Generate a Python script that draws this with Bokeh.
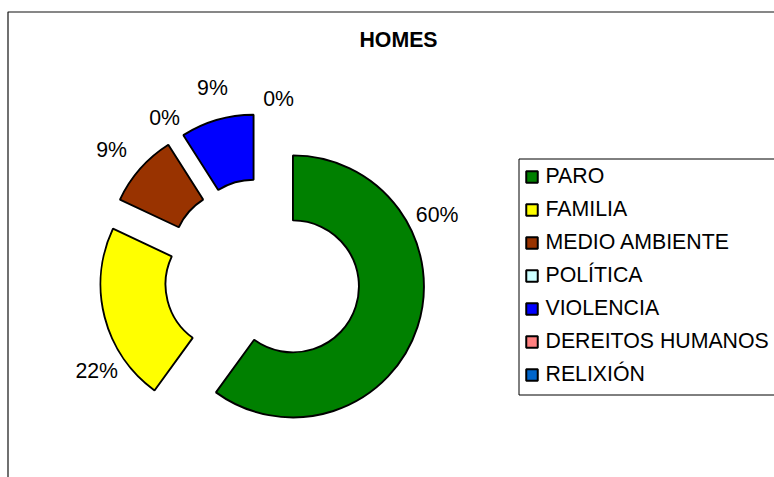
import math
from bokeh.plotting import figure
from bokeh.models import Range1d, ColumnDataSource
from bokeh.core.properties import value
from bokeh.embed import file_html
from bokeh.resources import INLINE

# ---------------- data ----------------
title = "HOMES"
categories = ["PARO", "FAMILIA", "MEDIO AMBIENTE", "POLÍTICA",
              "VIOLENCIA", "DEREITOS HUMANOS", "RELIXIÓN"]
percentages = [60, 22, 9, 0, 9, 0, 0]
colors = ["#008000", "#FFFF00", "#993300", "#CCFFFF",
          "#0000FF", "#FF8080", "#0066CC"]

# ---------------- layout ----------------
W, H = 774, 477


def Y(s):
    # screen y (page pixels) -> data y (y axis up)
    return H - s


CX, CY = 262, Y(276)
R_OUT, R_IN, EXPLODE = 131, 66, 32
LABEL_DEG = [63.6, 237.4, 309.7, 328.4, 345.4, 6.3, 6.3]
LABEL_R = [161, 160, 165, 154, 163, 146, 146]
FONT = "Liberation Sans"
FS = "21.3px"

p = figure(width=W, height=H, x_range=Range1d(0, W), y_range=Range1d(0, H),
           output_backend="svg", toolbar_location=None,
           x_axis_location=None, y_axis_location=None,
           min_border=0, outline_line_color=None,
           background_fill_color="white", border_fill_color="white")
p.grid.visible = False

# chart area border (left & top visible, rest beyond the window)
p.quad(left=7.5, right=2000, top=Y(11.5), bottom=-2000,
       fill_color=None, line_color="#111111", line_width=1.2)

# ---------------- doughnut ----------------
total = sum(percentages)
wed = dict(x=[], y=[], start=[], end=[], color=[])
lab = dict(x=[], y=[], text=[])
seen = set()
cum = 0.0
for i, v in enumerate(percentages):
    t0 = cum / total * 360.0
    t1 = (cum + v) / total * 360.0
    cum += v
    mid = math.radians((t0 + t1) / 2.0)
    sx = CX + EXPLODE * math.sin(mid)
    sy = CY + EXPLODE * math.cos(mid)
    if v > 0:
        wed["x"].append(sx)
        wed["y"].append(sy)
        wed["start"].append(math.radians(90.0 - t1))
        wed["end"].append(math.radians(90.0 - t0))
        wed["color"].append(colors[i])
    la = math.radians(LABEL_DEG[i])
    lx = sx + LABEL_R[i] * math.sin(la)
    ly = sy + LABEL_R[i] * math.cos(la)
    key = (round(lx), round(ly), v)
    if key in seen:          # identical labels stacked on the same spot
        continue
    seen.add(key)
    lab["x"].append(lx)
    lab["y"].append(ly)
    lab["text"].append(f"{v}%")

p.annular_wedge(x="x", y="y", inner_radius=R_IN, outer_radius=R_OUT,
                start_angle="start", end_angle="end", direction="anticlock",
                fill_color="color", line_color="black", line_width=1.9,
                source=ColumnDataSource(wed))

p.text(x="x", y="y", text="text", source=ColumnDataSource(lab),
       text_font=value(FONT), text_font_size=FS, text_color="black",
       text_align="center", text_baseline="alphabetic")

# ---------------- title ----------------
p.text(x=[398], y=[Y(39.7)], text=[title], text_font=value(FONT),
       text_font_size=FS, text_font_style="bold", text_color="black",
       text_align="center", text_baseline="alphabetic")

# ---------------- legend ----------------
p.quad(left=518.5, right=2000, top=Y(158.5), bottom=Y(394.5),
       fill_color="white", line_color="black", line_width=1)
n = len(categories)
leg_sq = dict(x=[531.5] * n, y=[Y(176.5 + 33 * i) for i in range(n)], color=colors)
leg_tx = dict(x=[545] * n, y=[Y(175.5 + 33 * i) for i in range(n)], text=categories)
p.rect(x="x", y="y", width=11.5, height=11.5, fill_color="color",
       line_color="black", line_width=2, source=ColumnDataSource(leg_sq))
p.text(x="x", y="y", text="text", source=ColumnDataSource(leg_tx),
       text_font=value(FONT), text_font_size=FS, text_color="black",
       text_align="left", text_baseline="alphabetic")

open("out.html", "w").write(file_html(p, INLINE))
